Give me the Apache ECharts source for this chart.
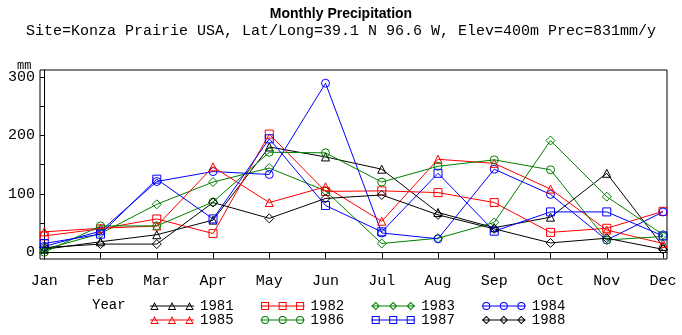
<!DOCTYPE html>
<html>
<head>
<meta charset="utf-8">
<script src="https://cdn.jsdelivr.net/npm/echarts@6/dist/echarts.min.js"></script>
<style>html,body{margin:0;padding:0;background:#fff;}#c{width:682px;height:335px;}</style>
</head>
<body>
<div id="c"></div>
<script>
const months = ['Jan','Feb','Mar','Apr','May','Jun','Jul','Aug','Sep','Oct','Nov','Dec'];
const yTicks = [0, 50, 100, 150, 200, 250, 300];
const yLabels = [0, 100, 200, 300];
const years = ['1981','1982','1983','1984','1985','1986','1987','1988'];
const p1981 = [5, 18, 30, 55, 180, 163, 142, 68, 42, 60, 135, 10];
const p1982 = [28, 40, 57, 32, 202, 104, 105, 102, 85, 34, 41, 70];
const p1983 = [5, 32, 82, 120, 144, 105, 15, 24, 51, 191, 95, 30];
const p1984 = [10, 36, 121, 138, 133, 289, 33, 23, 142, 99, 21, 69];
const p1985 = [35, 41, 45, 146, 85, 112, 53, 159, 152, 108, 38, 15];
const p1986 = [0, 45, 45, 86, 171, 170, 120, 147, 158, 141, 21, 27];
const p1987 = [15, 31, 125, 57, 194, 80, 35, 135, 36, 69, 69, 28];
const p1988 = [8, 14, 14, 85, 58, 92, 98, 64, 40, 16, 24, 5];

const values = [p1981, p1982, p1983, p1984, p1985, p1986, p1987, p1988];
const colors = ['#000000','#ff0000','#008000','#0000ff','#ff0000','#008000','#0000ff','#000000'];
const shapes = ['triangle','rect','diamond','circle','triangle','circle','rect','diamond'];

// legend sample: a line with three hollow markers, drawn as filled rings (nonzero winding)
function ring(shape, cx) {
  const f = n => (n).toFixed(2);
  if (shape === 'triangle') {
    return 'M' + f(cx - 4.2) + ' 8.6 L' + f(cx) + ' 0.4 L' + f(cx + 4.2) + ' 8.6 Z ' +
           'M' + f(cx - 2.7) + ' 7.6 L' + f(cx + 2.7) + ' 7.6 L' + f(cx) + ' 2.6 Z ';
  }
  if (shape === 'rect') {
    return 'M' + f(cx - 4) + ' 0.5 L' + f(cx + 4) + ' 0.5 L' + f(cx + 4) + ' 8.5 L' + f(cx - 4) + ' 8.5 Z ' +
           'M' + f(cx - 3) + ' 1.5 L' + f(cx - 3) + ' 7.5 L' + f(cx + 3) + ' 7.5 L' + f(cx + 3) + ' 1.5 Z ';
  }
  if (shape === 'diamond') {
    return 'M' + f(cx) + ' 0.3 L' + f(cx + 4.2) + ' 4.5 L' + f(cx) + ' 8.7 L' + f(cx - 4.2) + ' 4.5 Z ' +
           'M' + f(cx) + ' 1.7 L' + f(cx - 2.8) + ' 4.5 L' + f(cx) + ' 7.3 L' + f(cx + 2.8) + ' 4.5 Z ';
  }
  return 'M' + f(cx - 4) + ' 4.5 A4 4 0 1 1 ' + f(cx + 4) + ' 4.5 A4 4 0 1 1 ' + f(cx - 4) + ' 4.5 Z ' +
         'M' + f(cx - 3) + ' 4.5 A3 3 0 1 0 ' + f(cx + 3) + ' 4.5 A3 3 0 1 0 ' + f(cx - 3) + ' 4.5 Z ';
}
function legendIcon(shape) {
  return 'path://M0 0 L0.01 0 L0.01 0.01 Z M0 9 L0.01 9 L0.01 8.99 Z ' +
    'M0 4 L44 4 L44 5 L0 5 Z ' + ring(shape, 4.5) + ring(shape, 22) + ring(shape, 39.5);
}

const mono = 'Liberation Mono';

const series = years.map((y, i) => ({
  name: y,
  type: 'line',
  data: values[i].map((v, m) => [m, v]),
  symbol: shapes[i],
  symbolSize: shapes[i] === 'diamond' ? 9 : 8,
  showSymbol: true,
  lineStyle: { color: colors[i], width: 1 },
  itemStyle: { color: 'rgba(0,0,0,0)', borderColor: colors[i], borderWidth: 1 },
  emphasis: { disabled: true },
  z: 2 + i
}));

function legendData(list) {
  return list.map(i => ({
    name: years[i],
    icon: legendIcon(shapes[i]),
    itemStyle: { color: colors[i], borderWidth: 0 }
  }));
}

const legendCommon = {
  orient: 'horizontal',
  left: 145,
  itemWidth: 44,
  itemHeight: 9,
  itemGap: 27,
  selectedMode: false,
  textStyle: { fontFamily: mono, fontSize: 14, color: '#000', padding: [0, 0, 0, 1] }
};

const chart = echarts.init(document.getElementById('c'), null, { renderer: 'canvas' });
chart.setOption({
  animation: false,
  backgroundColor: '#fff',
  title: [
    { text: 'Monthly Precipitation', left: 'center', top: 2,
      textStyle: { fontFamily: 'Liberation Sans', fontWeight: 'bold', fontSize: 14, color: '#000' } },
    { text: 'Site=Konza Prairie USA, Lat/Long=39.1 N 96.6 W, Elev=400m Prec=831mm/y', left: 'center', top: 19,
      textStyle: { fontFamily: mono, fontWeight: 'normal', fontSize: 15, color: '#000' } },
    { text: 'mm', left: 12, top: 55,
      textStyle: { fontFamily: mono, fontWeight: 'normal', fontSize: 12, color: '#000' } },
    { text: 'Year', left: 87, top: 293,
      textStyle: { fontFamily: mono, fontWeight: 'normal', fontSize: 14, color: '#000' } }
  ],
  legend: [
    Object.assign({}, legendCommon, { top: 294, data: legendData([0, 1, 2, 3]) }),
    Object.assign({}, legendCommon, { top: 308, data: legendData([4, 5, 6, 7]) })
  ],
  grid: { left: 40, top: 70, width: 627, height: 189, show: true, borderColor: '#000', borderWidth: 1, backgroundColor: 'transparent' },
  xAxis: {
    type: 'value',
    min: -0.076,
    max: 11.071,
    splitLine: { show: false },
    axisLine: { show: true, lineStyle: { color: '#000', width: 1 } },
    axisTick: { show: true, length: 6, lineStyle: { color: '#000' }, customValues: months.map((m, i) => i) },
    axisLabel: { customValues: months.map((m, i) => i), formatter: v => months[Math.round(v)],
      fontFamily: mono, fontSize: 15, color: '#000', margin: 15 }
  },
  yAxis: {
    type: 'value',
    min: -11.5,
    max: 311.6,
    splitLine: { show: false },
    axisLine: { show: true, lineStyle: { color: '#000', width: 1 } },
    axisTick: { show: true, length: 4, lineStyle: { color: '#000' }, customValues: yTicks },
    axisLabel: { customValues: yLabels, fontFamily: mono, fontSize: 15, color: '#000', margin: 5 }
  },
  series: series
});
</script>
</body>
</html>
